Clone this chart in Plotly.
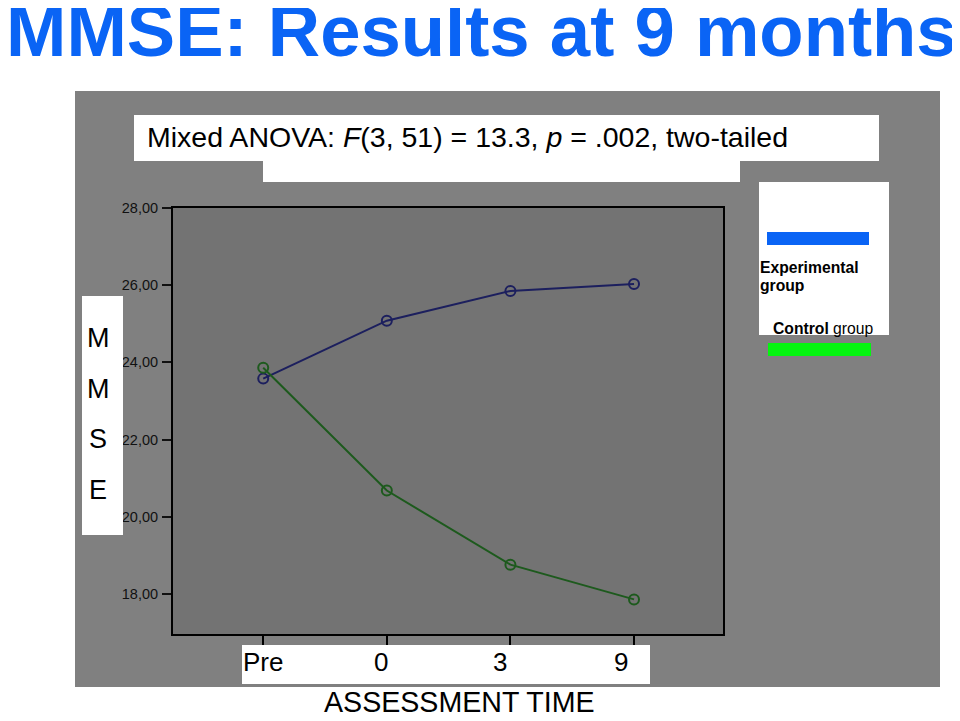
import plotly.graph_objects as go

# ---- data ----
time_labels = ["Pre", "0", "3", "9"]
experimental = [23.58, 25.08, 25.85, 26.03]
control = [23.86, 20.68, 18.76, 17.86]
y_tick_values = [18, 20, 22, 24, 26, 28]
y_tick_labels = ["18,00", "20,00", "22,00", "24,00", "26,00", "28,00"]
series_names = ["Experimental group", "Control group"]
legend_lines = ["Experimental", "group"]
y_title_letters = ["M", "M", "S", "E"]

# page body has an 8px margin, so the figure is offset by 8px
OFF = 8
W, H = 960 - OFF, 721 - OFF
FONT = "Liberation Sans, Arial, sans-serif"


def px(x):
    return (x - OFF) / W


def py(y):
    return 1 - (y - OFF) / H


fig = go.Figure()

fig.add_trace(go.Scatter(
    x=list(range(len(time_labels))), y=experimental, name=series_names[0], mode="lines+markers",
    line=dict(color="#1c1f5e", width=2),
    marker=dict(symbol="circle-open", size=10, color="#1c1f5e", line=dict(width=2)),
    showlegend=False))
fig.add_trace(go.Scatter(
    x=list(range(len(time_labels))), y=control, name=series_names[1], mode="lines+markers",
    line=dict(color="#1d5a1d", width=2),
    marker=dict(symbol="circle-open", size=10, color="#1d5a1d", line=dict(width=2)),
    showlegend=False))


def rect(x0, y0, x1, y1, color, layer="above"):
    return dict(type="rect", xref="paper", yref="paper",
                x0=px(x0), x1=px(x1), y0=py(y1), y1=py(y0),
                fillcolor=color, line=dict(width=0), layer=layer)


shapes = [
    rect(75, 91, 940, 687, "#808080", layer="below"),
    dict(type="rect", xref="x domain", yref="y domain", x0=0, x1=1, y0=0, y1=1,
         fillcolor="#737373", line=dict(width=0), layer="below"),
    rect(134, 115, 879, 161, "white"),
    rect(263, 160, 740, 182, "white"),
    rect(759, 182, 889, 335, "white"),
    rect(767, 232, 869, 245, "#0a64f5"),
    rect(768, 343, 871, 356, "#05f510"),
    rect(82, 296, 123, 535, "white"),
    rect(242, 645, 650, 684, "white"),
]

annotations = []


def text(t, x, y, size, xanchor="left", color="black", **kw):
    annotations.append(dict(text=t, x=px(x), y=py(y), xref="paper", yref="paper",
                            xanchor=xanchor, yanchor="middle", showarrow=False,
                            font=dict(family=kw.pop("family", FONT), size=size, color=color),
                            **kw))


text("<b>MMSE: Results at 9 months</b>", 481, 31, 72.5, xanchor="center", color="#0a64f5")
text("Mixed ANOVA: <i>F</i>(3, 51) = 13.3, <i>p</i> = .002, two-tailed", 145, 137, 28.5)
text("<b>" + legend_lines[0] + "</b>", 758, 267, 15.7)
text("<b>" + legend_lines[1] + "</b>", 758, 286, 15.7)
text("<b>Control</b> group", 771, 328, 15.7)
for i, letter in enumerate(y_title_letters):
    text(letter, 98, 338 + 50.5 * i, 27, xanchor="center")
text("ASSESSMENT TIME", 459, 702, 28.6, xanchor="center")

# x tick labels placed in the white box, using the x axis scale
label_shift = [0, -6, -10, -13]
for i, (lab, sh) in enumerate(zip(time_labels, label_shift)):
    annotations.append(dict(text=lab, x=i, xref="x", y=py(662), yref="paper",
                            xanchor="center", yanchor="middle", xshift=sh, showarrow=False,
                            font=dict(family=FONT, size=26, color="black")))

fig.update_layout(
    width=W, height=H,
    margin=dict(l=0, r=0, t=0, b=0),
    paper_bgcolor="white",
    plot_bgcolor="rgba(0,0,0,0)",
    shapes=shapes,
    annotations=annotations,
    xaxis=dict(domain=[px(173), px(723)], range=[-0.73, 3.72],
               tickvals=list(range(len(time_labels))),
               showgrid=False, zeroline=False, showline=True, linecolor="black",
               linewidth=2, mirror=True, ticks="outside", ticklen=10, tickwidth=2,
               tickcolor="black", showticklabels=False, automargin=False),
    yaxis=dict(domain=[py(634), py(208)], range=[16.964, 28],
               tickvals=y_tick_values, ticktext=y_tick_labels,
               showgrid=False, zeroline=False, showline=True, linecolor="black",
               linewidth=2, mirror=True, ticks="outside", ticklen=9, tickwidth=2,
               tickcolor="#111111", ticklabelstandoff=1, automargin=False,
               tickfont=dict(family=FONT, size=14.5, color="#111111")),
)

fig.write_html("out.html")
